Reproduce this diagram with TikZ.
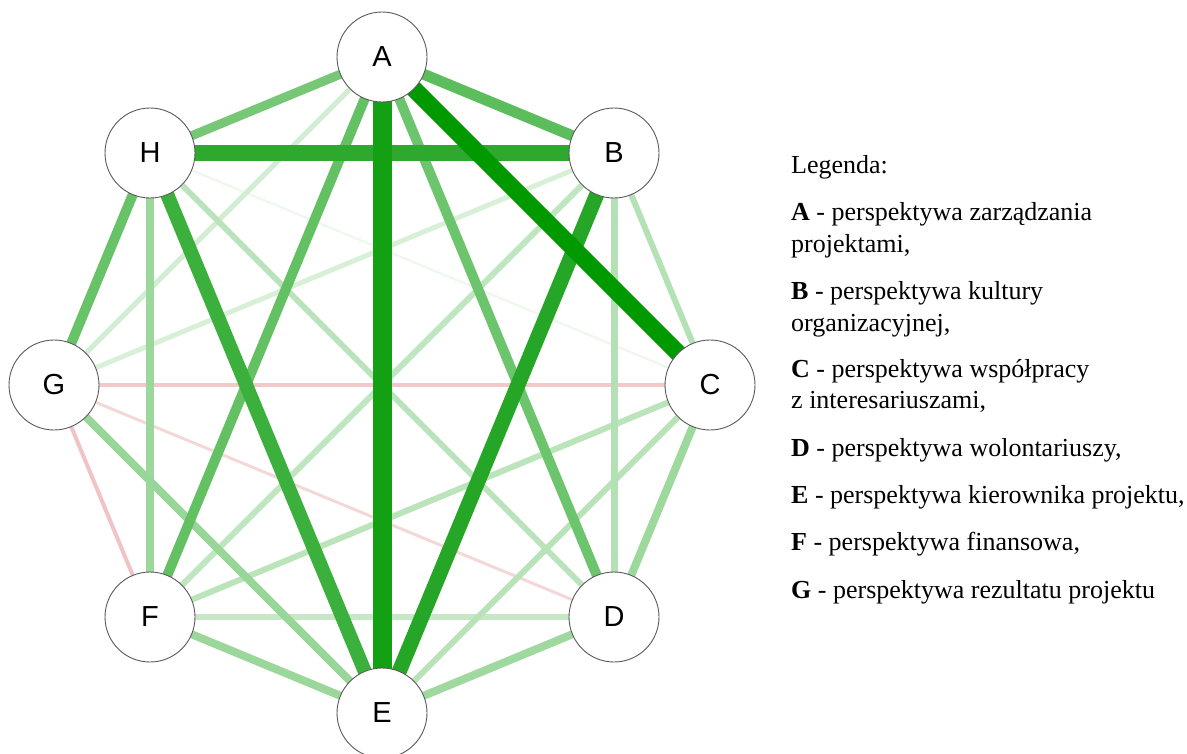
\documentclass[tikz,border=0pt]{standalone}
\usepackage{fontspec}
\setmainfont{Liberation Serif}
\newfontfamily\nodefont{Liberation Sans}
\usetikzlibrary{backgrounds}

% edge colours, from weakest to strongest tie
\definecolor{cCH}{HTML}{EEF8EE}
\definecolor{cDG}{HTML}{F4D8D8}
\definecolor{cFG}{HTML}{F0C4C4}
\definecolor{cCG}{HTML}{F2C8C8}
\definecolor{cBG}{HTML}{D8F0D8}
\definecolor{cAG}{HTML}{D2EDD2}
\definecolor{cDF}{HTML}{C6E8C6}
\definecolor{cBF}{HTML}{C0E6C0}
\definecolor{cDH}{HTML}{BCE4BC}
\definecolor{cCF}{HTML}{BBE4BB}
\definecolor{cCE}{HTML}{B8E3B8}
\definecolor{cBC}{HTML}{B5E2B5}
\definecolor{cBD}{HTML}{B3E1B3}
\definecolor{cDE}{HTML}{A0D9A0}
\definecolor{cCD}{HTML}{9DD89D}
\definecolor{cFH}{HTML}{9CD89C}
\definecolor{cEF}{HTML}{9BD79B}
\definecolor{cEG}{HTML}{99D699}
\definecolor{cAH}{HTML}{76C876}
\definecolor{cAD}{HTML}{6CC46C}
\definecolor{cGH}{HTML}{68C268}
\definecolor{cAF}{HTML}{63C063}
\definecolor{cAB}{HTML}{5CBD5C}
\definecolor{cEH}{HTML}{3CB03C}
\definecolor{cBE}{HTML}{26A626}
\definecolor{cBH}{HTML}{2EA82E}
\definecolor{cAC}{HTML}{009900}
\definecolor{cAE}{HTML}{13A013}

\tikzset{
  vert/.style={circle, draw=black!65, line width=0.9pt, fill=white,
    minimum size=90pt, inner sep=0pt, font=\nodefont\fontsize{29}{29}\selectfont},
  leg/.style={anchor=base west, inner sep=0pt, font=\fontsize{26}{31}\selectfont},
}
% \tie{from}{to}{width}{colour}
\newcommand\tie[4]{\draw[line width=#3pt, draw=#4] (#1.center) -- (#2.center);}

\begin{document}
\begin{tikzpicture}[x=1pt, y=-1pt]
  \useasboundingbox (0,0) rectangle (1187,753);

  % vertices on a regular octagon
  \node[vert] (A) at (382,57)  {A};
  \node[vert] (B) at (614,153) {B};
  \node[vert] (C) at (710,385) {C};
  \node[vert] (D) at (614,617) {D};
  \node[vert] (E) at (382,713) {E};
  \node[vert] (F) at (150,617) {F};
  \node[vert] (G) at (54,385)  {G};
  \node[vert] (H) at (150,153) {H};

  \begin{pgfonlayer}{background}
    \tie{C}{H}{2.5}{cCH}
    \tie{D}{G}{3}{cDG}
    \tie{F}{G}{4}{cFG}
    \tie{C}{G}{4}{cCG}
    \tie{B}{G}{5}{cBG}
    \tie{A}{G}{5}{cAG}
    \tie{D}{F}{6}{cDF}
    \tie{B}{F}{6}{cBF}
    \tie{D}{H}{6}{cDH}
    \tie{C}{F}{6}{cCF}
    \tie{C}{E}{6}{cCE}
    \tie{B}{C}{6}{cBC}
    \tie{B}{D}{7}{cBD}
    \tie{D}{E}{8}{cDE}
    \tie{C}{D}{8}{cCD}
    \tie{F}{H}{8}{cFH}
    \tie{E}{F}{8}{cEF}
    \tie{E}{G}{8}{cEG}
    \tie{A}{H}{9}{cAH}
    \tie{A}{D}{10}{cAD}
    \tie{G}{H}{10}{cGH}
    \tie{A}{F}{10}{cAF}
    \tie{A}{B}{11}{cAB}
    \tie{E}{H}{14}{cEH}
    \tie{B}{E}{15}{cBE}
    \tie{B}{H}{16}{cBH}
    \tie{A}{C}{17}{cAC}
    \tie{A}{E}{19}{cAE}
  \end{pgfonlayer}

  % legend
  \node[leg] (l0) at (791,173) {Legenda:};
  \node[leg] (l1) at (791,220) {\textbf{A} - perspektywa zarządzania};
  \node[leg] (l1b) at (791,252) {projektami,};
  \node[leg] (l2) at (791,299) {\textbf{B} - perspektywa kultury};
  \node[leg] (l2b) at (791,331) {organizacyjnej,};
  \node[leg] (l3) at (791,377) {\textbf{C} - perspektywa współpracy};
  \node[leg] (l3b) at (791,408) {z interesariuszami,};
  \node[leg] (l4) at (791,456) {\textbf{D} - perspektywa wolontariuszy,};
  \node[leg] (l5) at (791,503) {\textbf{E} - perspektywa kierownika projektu,};
  \node[leg] (l6) at (791,550) {\textbf{F} - perspektywa finansowa,};
  \node[leg] (l7) at (791,598) {\textbf{G} - perspektywa rezultatu projektu};
\end{tikzpicture}
\end{document}
